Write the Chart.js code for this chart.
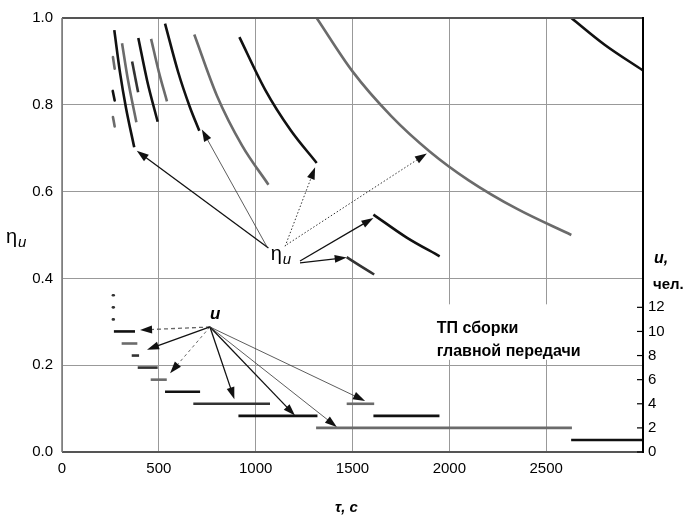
<!DOCTYPE html>
<html lang="ru">
<head>
<meta charset="utf-8">
<title>ТП сборки главной передачи</title>
<script src="https://cdn.jsdelivr.net/npm/chart.js@4/dist/chart.umd.min.js"></script>
<style>
  body { margin: 0; background: #fff; }
  #wrap { width: 693px; height: 517px; }
</style>
</head>
<body>
<div id="wrap"><canvas id="chart"></canvas></div>
<script>
// коэффициент использования η_u по времени такта τ, c (для каждой численности u)
const etaU13 = [[263, 0.910], [272, 0.883]];
const etaU12 = [[262, 0.832], [272, 0.810]];
const etaU11 = [[263, 0.772], [272, 0.750]];
const etaU10 = [[270, 0.972], [300, 0.873], [330, 0.794], [373, 0.702]];
const etaU9 = [[310, 0.942], [340, 0.859], [384, 0.760]];
const etaU8 = [[362, 0.900], [393, 0.829]];
const etaU7 = [[394, 0.954], [440, 0.855], [494, 0.761]];
const etaU6 = [[460, 0.952], [500, 0.876], [542, 0.808]];
const etaU5 = [[532, 0.987], [600, 0.875], [660, 0.795], [709, 0.740]];
const etaU4 = [[683, 0.962], [800, 0.821], [930, 0.706], [1066, 0.616]];
const etaU3 = [[916, 0.956], [1050, 0.834], [1180, 0.742], [1315, 0.666]];
const etaU2 = [[1315, 1.0], [1500, 0.877], [1700, 0.774], [1900, 0.692], [2100, 0.626], [2350, 0.560], [2630, 0.500]];
const etaU1 = [[2630, 1.0], [2800, 0.939], [3000, 0.879]];
const etaU4b = [[1470, 0.449], [1540, 0.429], [1612, 0.409]];
const etaU3b = [[1608, 0.547], [1780, 0.494], [1950, 0.451]];

// численность u, чел. на интервалах τ
const uSeg13 = [[263, 13], [267, 13]];
const uSeg12 = [[263, 12], [267, 12]];
const uSeg11 = [[263, 11], [267, 11]];
const uSeg10 = [[268, 10], [377, 10]];
const uSeg9 = [[308, 9], [389, 9]];
const uSeg8 = [[360, 8], [398, 8]];
const uSeg7 = [[391, 7], [494, 7]];
const uSeg6 = [[458, 6], [541, 6]];
const uSeg5 = [[532, 5], [713, 5]];
const uSeg4 = [[678, 4], [1074, 4]];
const uSeg3 = [[911, 3], [1319, 3]];
const uSeg2 = [[1312, 2], [2633, 2]];
const uSeg1 = [[2629, 1], [3000, 1]];
const uSeg4b = [[1470, 4], [1612, 4]];
const uSeg3b = [[1608, 3], [1949, 3]];

const xTicks = [0, 500, 1000, 1500, 2000, 2500];
const yTicks = [0, 0.2, 0.4, 0.6, 0.8, 1.0];
const uTicks = [0, 2, 4, 6, 8, 10, 12];

// стрелки-выноски (в единицах осей)
const etaArrows = [
  { from: [1066, 0.470], to: [386, 0.694], kind: "solid" },
  { from: [1057, 0.474], to: [722, 0.743], kind: "thin" },
  { from: [1152, 0.474], to: [1307, 0.656], kind: "dot" },
  { from: [1161, 0.478], to: [1884, 0.688], kind: "dot" },
  { from: [1229, 0.440], to: [1608, 0.539], kind: "solid" },
  { from: [1229, 0.436], to: [1470, 0.448], kind: "solid" },
];
const uArrows = [
  { from: [764, 10.37], to: [403, 10.12], kind: "dash" },
  { from: [764, 10.37], to: [439, 8.49], kind: "solid" },
  { from: [764, 10.37], to: [558, 6.53], kind: "dashThin" },
  { from: [764, 10.37], to: [890, 4.38], kind: "solid" },
  { from: [764, 10.37], to: [1203, 3.02], kind: "solid" },
  { from: [764, 10.37], to: [1419, 2.07], kind: "thin" },
  { from: [764, 10.37], to: [1565, 4.24], kind: "thin" },
];

const BLACK = "#111";
const GRAY = "#6b6b6b";
const DARK = "#333";
const FONT = "'Liberation Sans', Arial, sans-serif";

const arrowStyles = {
  solid: { color: "#111", width: 1.3, dash: [] },
  thin: { color: "#333", width: 0.8, dash: [] },
  dot: { color: "#333", width: 1, dash: [1.5, 2] },
  dash: { color: "#666", width: 1.3, dash: [4, 3] },
  dashThin: { color: "#555", width: 0.9, dash: [3, 3] },
};

function toPts(arr) {
  return arr.map((p) => ({ x: p[0], y: p[1] }));
}

function line(data, color, axis, cap) {
  return {
    data: toPts(data),
    yAxisID: axis,
    borderColor: color,
    borderWidth: 2.6,
    borderCapStyle: cap || "butt",
    pointRadius: 0,
    cubicInterpolationMode: "monotone",
    fill: false,
  };
}

const datasets = [
  line(etaU13, GRAY, "y", "round"),
  line(etaU12, BLACK, "y", "round"),
  line(etaU11, GRAY, "y", "round"),
  line(etaU10, BLACK, "y"),
  line(etaU9, GRAY, "y"),
  line(etaU8, DARK, "y"),
  line(etaU7, BLACK, "y"),
  line(etaU6, GRAY, "y"),
  line(etaU5, BLACK, "y"),
  line(etaU4, GRAY, "y"),
  line(etaU3, BLACK, "y"),
  line(etaU2, GRAY, "y"),
  line(etaU1, BLACK, "y"),
  line(etaU4b, DARK, "y"),
  line(etaU3b, BLACK, "y"),
  line(uSeg13, DARK, "u", "round"),
  line(uSeg12, DARK, "u", "round"),
  line(uSeg11, DARK, "u", "round"),
  line(uSeg10, BLACK, "u"),
  line(uSeg9, GRAY, "u"),
  line(uSeg8, DARK, "u"),
  line(uSeg7, DARK, "u"),
  line(uSeg6, GRAY, "u"),
  line(uSeg5, BLACK, "u"),
  line(uSeg4, DARK, "u"),
  line(uSeg3, BLACK, "u"),
  line(uSeg2, GRAY, "u"),
  line(uSeg1, BLACK, "u"),
  line(uSeg4b, GRAY, "u"),
  line(uSeg3b, BLACK, "u"),
];

function drawArrow(ctx, x1, y1, x2, y2, s) {
  const a = Math.atan2(y2 - y1, x2 - x1);
  const L = 12, W = 4;
  ctx.save();
  ctx.strokeStyle = s.color;
  ctx.lineWidth = s.width;
  ctx.setLineDash(s.dash);
  ctx.beginPath();
  ctx.moveTo(x1, y1);
  ctx.lineTo(x2 - L * 0.8 * Math.cos(a), y2 - L * 0.8 * Math.sin(a));
  ctx.stroke();
  ctx.setLineDash([]);
  ctx.fillStyle = "#111";
  ctx.beginPath();
  ctx.moveTo(x2, y2);
  ctx.lineTo(x2 - L * Math.cos(a) + W * Math.sin(a), y2 - L * Math.sin(a) - W * Math.cos(a));
  ctx.lineTo(x2 - L * Math.cos(a) - W * Math.sin(a), y2 - L * Math.sin(a) + W * Math.cos(a));
  ctx.closePath();
  ctx.fill();
  ctx.restore();
}

const annotations = {
  id: "annotations",
  beforeDatasetsDraw(chart) {
    const { ctx, scales } = chart;
    const x = scales.x, u = scales.u;
    // белая подложка под надписью
    const l = x.getPixelForValue(1900), r = x.getPixelForValue(2760);
    const t = u.getPixelForValue(12.25), b = u.getPixelForValue(7.65);
    ctx.save();
    ctx.fillStyle = "#fff";
    ctx.fillRect(l, t, r - l, b - t);
    ctx.restore();
  },
  afterDatasetsDraw(chart) {
    const { ctx, scales, chartArea: ca } = chart;
    const x = scales.x, y = scales.y, u = scales.u;
    ctx.save();

    // рамка
    ctx.strokeStyle = "#555";
    ctx.lineWidth = 2;
    ctx.beginPath();
    ctx.moveTo(ca.left, ca.top);
    ctx.lineTo(ca.right, ca.top);
    ctx.moveTo(ca.left, ca.bottom);
    ctx.lineTo(ca.right, ca.bottom);
    ctx.stroke();
    ctx.strokeStyle = "#777";
    ctx.lineWidth = 1.5;
    ctx.beginPath();
    ctx.moveTo(ca.left, ca.top);
    ctx.lineTo(ca.left, ca.bottom);
    ctx.stroke();
    ctx.strokeStyle = "#000";
    ctx.lineWidth = 2;
    ctx.beginPath();
    ctx.moveTo(ca.right, ca.top - 1);
    ctx.lineTo(ca.right, ca.bottom + 1);
    ctx.stroke();

    // засечки правой оси внутрь
    ctx.lineWidth = 1.2;
    uTicks.forEach((v) => {
      const py = u.getPixelForValue(v);
      ctx.beginPath();
      ctx.moveTo(ca.right - 6, py);
      ctx.lineTo(ca.right, py);
      ctx.stroke();
    });

    // стрелки
    etaArrows.forEach((a) => {
      drawArrow(ctx, x.getPixelForValue(a.from[0]), y.getPixelForValue(a.from[1]),
        x.getPixelForValue(a.to[0]), y.getPixelForValue(a.to[1]), arrowStyles[a.kind]);
    });
    uArrows.forEach((a) => {
      drawArrow(ctx, x.getPixelForValue(a.from[0]), u.getPixelForValue(a.from[1]),
        x.getPixelForValue(a.to[0]), u.getPixelForValue(a.to[1]), arrowStyles[a.kind]);
    });

    ctx.fillStyle = "#000";
    ctx.textBaseline = "alphabetic";
    ctx.textAlign = "left";

    // подписи η_u и u у стрелок
    let px = x.getPixelForValue(1078), py = y.getPixelForValue(0.443);
    ctx.font = "20px " + FONT;
    ctx.fillText("η", px, py);
    ctx.font = "italic 15px " + FONT;
    ctx.fillText("u", px + 12, py + 4);

    px = x.getPixelForValue(764);
    py = u.getPixelForValue(11.05);
    ctx.font = "bold italic 17px " + FONT;
    ctx.fillText("u", px, py);

    // надпись в поле графика
    ctx.font = "bold 16px " + FONT;
    px = x.getPixelForValue(1935);
    ctx.fillText("ТП сборки", px, u.getPixelForValue(9.9));
    ctx.fillText("главной передачи", px, u.getPixelForValue(7.95));

    // заголовки осей
    ctx.font = "20px " + FONT;
    ctx.fillText("η", 6, 243);
    ctx.font = "italic 15px " + FONT;
    ctx.fillText("u", 18, 247);

    ctx.font = "bold italic 16px " + FONT;
    ctx.fillText("u,", 654, 263);
    ctx.font = "bold 15px " + FONT;
    ctx.fillText("чел.", 653, 289);

    ctx.font = "bold italic 15px " + FONT;
    ctx.textAlign = "center";
    ctx.fillText("τ, с", (ca.left + ca.right) / 2 - 6, 512);

    ctx.restore();
  },
};

const tickFont = { family: FONT, size: 15 };

new Chart(document.getElementById("chart"), {
  type: "line",
  data: { datasets },
  plugins: [annotations],
  options: {
    responsive: true,
    maintainAspectRatio: false,
    animation: false,
    layout: { padding: { top: 12, left: 0, right: 0, bottom: 0 } },
    plugins: { legend: { display: false }, tooltip: { enabled: false } },
    scales: {
      x: {
        type: "linear",
        min: 0,
        max: 3000,
        afterBuildTicks: (s) => { s.ticks = xTicks.concat([3000]).map((v) => ({ value: v })); },
        ticks: {
          font: tickFont,
          color: "#000",
          padding: 8,
          maxRotation: 0,
          callback: (v) => (xTicks.includes(v) ? String(v) : ""),
        },
        grid: { color: "#999", lineWidth: 1, drawTicks: false },
        border: { display: false },
        afterFit: (s) => { s.height = 65; },
      },
      y: {
        type: "linear",
        position: "left",
        min: 0,
        max: 1,
        afterBuildTicks: (s) => { s.ticks = yTicks.map((v) => ({ value: v })); },
        ticks: {
          font: tickFont,
          color: "#000",
          padding: 9,
          callback: (v) => v.toFixed(1),
        },
        grid: { color: "#999", lineWidth: 1, drawTicks: false },
        border: { display: false },
        afterFit: (s) => { s.width = 62; },
      },
      u: {
        type: "linear",
        position: "right",
        min: 0,
        max: 36,
        afterBuildTicks: (s) => { s.ticks = uTicks.map((v) => ({ value: v })); },
        ticks: {
          font: tickFont,
          color: "#000",
          padding: 5,
          callback: (v) => String(v),
        },
        grid: { drawOnChartArea: false, drawTicks: false },
        border: { display: false },
        afterFit: (s) => { s.width = 50; },
      },
    },
  },
});
</script>
</body>
</html>
